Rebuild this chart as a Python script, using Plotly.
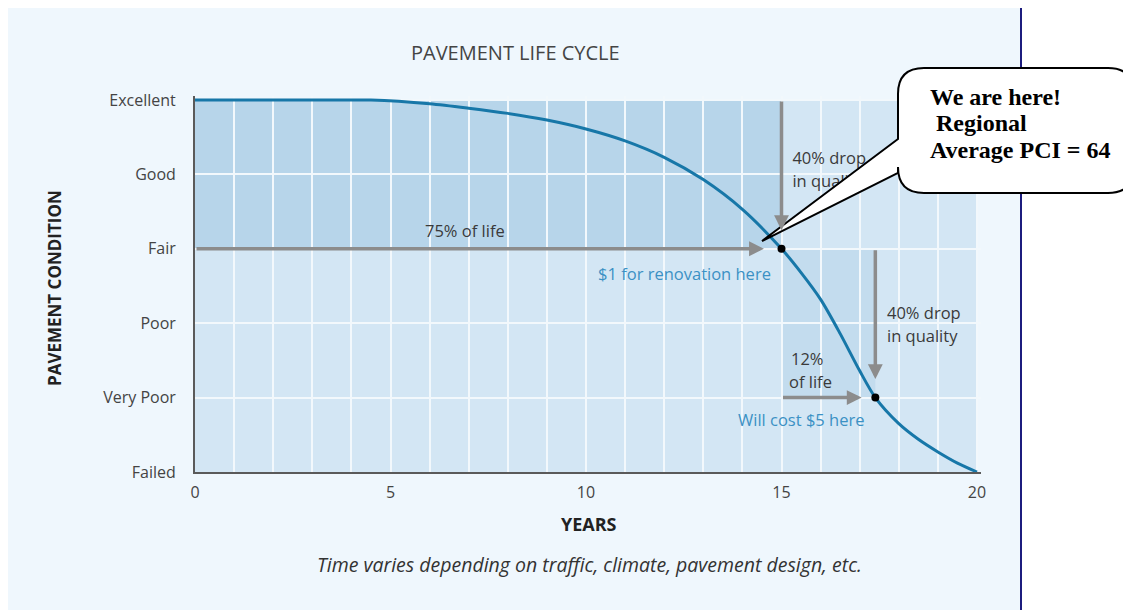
import plotly.graph_objects as go

# ---- data ----
years = [0, 2, 4, 4.5, 6, 7, 8, 9, 10, 11, 12, 13, 14, 15, 15.5, 16, 16.5, 17, 17.4,
         18, 18.5, 19, 19.5, 20]
condition = [5.0, 5.0, 5.0, 5.0, 4.95, 4.89, 4.82, 4.73, 4.61, 4.45, 4.23, 3.93, 3.53,
             3.0, 2.68, 2.32, 1.86, 1.36, 1.0, 0.65, 0.44, 0.27, 0.12, 0.0]
levels = [0, 1, 2, 3, 4, 5]
level_labels = ["Failed", "Very Poor", "Poor", "Fair", "Good", "Excellent"]
year_ticks = [0, 5, 10, 15, 20]
key_years = [15, 17.4]
key_conditions = [3, 1]

# ---- geometry (page has an 8px body margin) ----
OFF = 8
W, H = 1131 - OFF, 610 - OFF
PLOT_L, PLOT_R, PLOT_T, PLOT_B = 195, 981, 96, 472          # page pixels
L, T = PLOT_L - OFF, PLOT_T - OFF
PW, PH = PLOT_R - PLOT_L, PLOT_B - PLOT_T
R, B = W - L - PW, H - T - PH


def px(x):
    return (x - PLOT_L) / PW


def py(y):
    return (PLOT_B - y) / PH


fig = go.Figure()

fig.add_trace(go.Scatter(x=years, y=condition, mode="lines",
                         line=dict(color="#1777A8", width=3, shape="spline", smoothing=0.8),
                         hoverinfo="skip", showlegend=False))
fig.add_trace(go.Scatter(x=key_years, y=key_conditions, mode="markers",
                         marker=dict(color="black", size=8), showlegend=False, cliponaxis=False))
# label under the callout tail (drawn as a trace so the callout covers it)
fig.add_trace(go.Scatter(x=[15.28, 15.28], y=[4.19, 3.89], mode="text",
                         text=["40% drop", "in quality"], textposition="middle right",
                         textfont=dict(family="Open Sans", size=16.5, color="#3a3a3a"),
                         showlegend=False, hoverinfo="skip"))

shapes = []
# outer panel
shapes.append(dict(type="rect", xref="paper", yref="paper", layer="below",
                   x0=px(5), x1=px(1021), y0=py(640), y1=py(5),
                   fillcolor="#EFF7FD", line=dict(color="#1C1C7E", width=2)))
# shaded regions
dark, light, mid = "#B7D5EA", "#D3E6F4", "#C3DCEE"
for x0, x1, y0, y1, c in [(0, 15, 3, 5, dark), (0, 15, 0, 3, light), (15, 20, 3, 5, light),
                          (15, 20, 0, 3, light), (15, 17.4, 1, 3, mid)]:
    shapes.append(dict(type="rect", xref="x", yref="y", layer="below",
                       x0=x0, x1=x1, y0=y0, y1=y1, fillcolor=c, line=dict(width=0)))

# callout bubble
bl, br, bt, bb, r = 898, 1134, 68, 193, 26
pts = [("M", (898, 139)), ("L", (762, 241)), ("L", (898, 173)), ("L", (bl, bb - r)),
       ("Q", (bl, bb), (bl + r, bb)), ("L", (br - r, bb)), ("Q", (br, bb), (br, bb - r)),
       ("L", (br, bt + r)), ("Q", (br, bt), (br - r, bt)), ("L", (bl + r, bt)),
       ("Q", (bl, bt), (bl, bt + r))]
path = ""
for p in pts:
    coords = " ".join(f"{px(a):.5f},{py(b):.5f}" for a, b in p[1:])
    path += f"{p[0]} {coords} "
path += "Z"
shapes.append(dict(type="path", xref="paper", yref="paper", layer="above", path=path,
                   fillcolor="white", line=dict(color="black", width=2)))

annotations = []
arrow_color = "#8C8C8C"
for (tx, ty, hx, hy) in [(0, 3, 14.55, 3), (15, 5, 15, 3.25), (15, 1, 17.05, 1), (17.4, 3, 17.4, 1.25)]:
    annotations.append(dict(x=hx, y=hy, ax=tx, ay=ty, xref="x", yref="y", axref="x", ayref="y",
                            showarrow=True, arrowhead=2, arrowsize=0.85, arrowwidth=3.5,
                            arrowcolor=arrow_color, text=""))

txt = dict(family="Open Sans", size=16.5, color="#3a3a3a")
blue = dict(family="Open Sans", size=16.5, color="#3B91C4")
annotations += [
    dict(x=6.9, y=3.24, text="75% of life", showarrow=False, font=txt),
    dict(x=14.77, y=2.67, text="$1 for renovation here", showarrow=False, font=blue, xanchor="right"),
    dict(x=15.2, y=1.53, text="12%", showarrow=False, font=txt, xanchor="left"),
    dict(x=15.15, y=1.22, text="of life", showarrow=False, font=txt, xanchor="left"),
    dict(x=17.65, y=2.15, text="40% drop", showarrow=False, font=txt, xanchor="left"),
    dict(x=17.65, y=1.84, text="in quality", showarrow=False, font=txt, xanchor="left"),
    dict(x=15.5, y=0.71, text="Will cost $5 here", showarrow=False, font=blue),
]
for xx, yy, t in [(928, 97, "We are here!"), (928, 123, "\u00a0Regional"), (928, 150, "Average PCI = 64")]:
    annotations.append(dict(x=px(xx), y=py(yy), xref="paper", yref="paper", text=f"<b>{t}</b>",
                            showarrow=False, xanchor="left", yanchor="middle",
                            font=dict(family="Liberation Serif", size=24, color="black")))


def para(x, y, text, font, **kw):
    return dict(x=px(x), y=py(y), xref="paper", yref="paper", text=text, showarrow=False,
                xanchor="center", yanchor="middle", font=font, **kw)


annotations += [
    para(515, 52, "PAVEMENT LIFE CYCLE", dict(family="Open Sans", size=20, color="#444444")),
    para(54, 288, "<b>PAVEMENT CONDITION</b>", dict(family="Open Sans", size=17, color="#222222"),
         textangle=-90),
    para(589, 524, "<b>YEARS</b>", dict(family="Open Sans", size=18, color="#222222")),
    para(589, 564, "<i>Time varies depending on traffic, climate, pavement design, etc.</i>",
         dict(family="Open Sans", size=19.5, color="#333333")),
]

fig.update_layout(
    width=W, height=H, margin=dict(l=L, r=R, t=T, b=B),
    paper_bgcolor="white", plot_bgcolor="rgba(0,0,0,0)",
    shapes=shapes, annotations=annotations, showlegend=False,
    xaxis=dict(range=[0, PW / 39.1], tickvals=year_ticks, showgrid=True, gridcolor="#F2F8FC",
               gridwidth=1.5, minor=dict(dtick=1, showgrid=True, gridcolor="#F2F8FC", gridwidth=1.5),
               showline=True, linecolor="#5A5A5A", linewidth=2, zeroline=False,
               ticks="", ticklabelstandoff=5,
               tickfont=dict(family="Open Sans", size=16, color="#444444")),
    yaxis=dict(range=[0, PH / 74.4], tickvals=levels, ticktext=level_labels, showgrid=True,
               gridcolor="#F2F8FC", gridwidth=1.5, showline=True, linecolor="#5A5A5A",
               linewidth=2, zeroline=False, ticks="", ticklabelstandoff=14,
               tickfont=dict(family="Open Sans", size=16, color="#444444")),
)

fig.write_html("out.html")
